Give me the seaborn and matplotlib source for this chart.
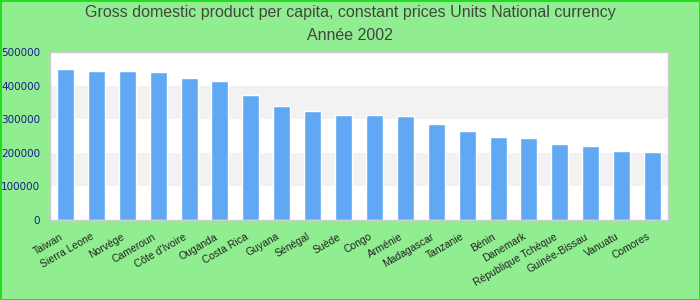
import matplotlib
matplotlib.use("Agg")
import matplotlib.pyplot as plt
import matplotlib.transforms as mtransforms
import seaborn as sns
import pandas as pd

countries = ["Taiwan", "Sierra Leone", "Norvège", "Cameroun", "Côte d'Ivoire", "Ouganda",
             "Costa Rica", "Guyana", "Sénégal", "Suède", "Congo", "Arménie", "Madagascar",
             "Tanzanie", "Bénin", "Danemark", "République Tchèque", "Guinée-Bissau",
             "Vanuatu", "Comores"]
values = [449000, 443000, 443000, 440000, 422000, 413000, 372000, 339000, 324000, 312000,
          312000, 309000, 286000, 265000, 247000, 244000, 226000, 220000, 205000, 202000]
yticks = [0, 100000, 200000, 300000, 400000, 500000]

df = pd.DataFrame({"country": countries, "value": values})

sns.set_theme(style="white")
plt.rcParams['font.family'] = ['DejaVu Sans']

fig = plt.figure(figsize=(7, 3), dpi=100, facecolor="#90ee90",
                 edgecolor="#22dd22", linewidth=2)
ax = fig.add_axes([50/700, 80/300, 618/700, 168/300])
ax.set_facecolor("white")

for i in range(0, 5):
    if i % 2 == 1:
        ax.axhspan(yticks[i], yticks[i+1], color="#f2f2f2", zorder=0, lw=0)

sns.barplot(data=df, x="country", y="value", color="#60a8f4", saturation=1,
            width=0.55, ax=ax, zorder=2)

ax.set_ylim(0, 500000)
ax.set_xlim(-0.5, len(countries) - 0.5)
ax.set_yticks(yticks)
ax.set_yticklabels([str(v) for v in yticks], color="#1a1a8c", fontsize=7.5)
ax.tick_params(axis="y", length=0, pad=7)
ax.tick_params(axis="x", length=0, pad=4)
ax.set_xticks(range(len(countries)))
ax.set_xticklabels(countries, rotation=30, ha="right", rotation_mode="anchor",
                   fontsize=7.5, color="#222222", family=["Liberation Sans", "DejaVu Sans"])
offset = mtransforms.ScaledTranslation(-0.06, -0.06, fig.dpi_scale_trans)
for lab in ax.get_xticklabels():
    lab.set_transform(lab.get_transform() + offset)
ax.set_xlabel("")
ax.set_ylabel("")
for s in ax.spines.values():
    s.set_color("#cccccc")
    s.set_linewidth(1)

fig.text(0.5, 1 - 13/300, "Gross domestic product per capita, constant prices Units National currency",
         ha="center", va="center", fontsize=11.5, color="#444444",
         family=["Liberation Sans", "DejaVu Sans"])
fig.text(0.5, 1 - 36/300, "Année 2002", ha="center", va="center", fontsize=11.5,
         color="#444444", family=["Liberation Sans", "DejaVu Sans"])

fig.savefig("out.png", dpi=100, facecolor=fig.get_facecolor(), edgecolor=fig.get_edgecolor())
